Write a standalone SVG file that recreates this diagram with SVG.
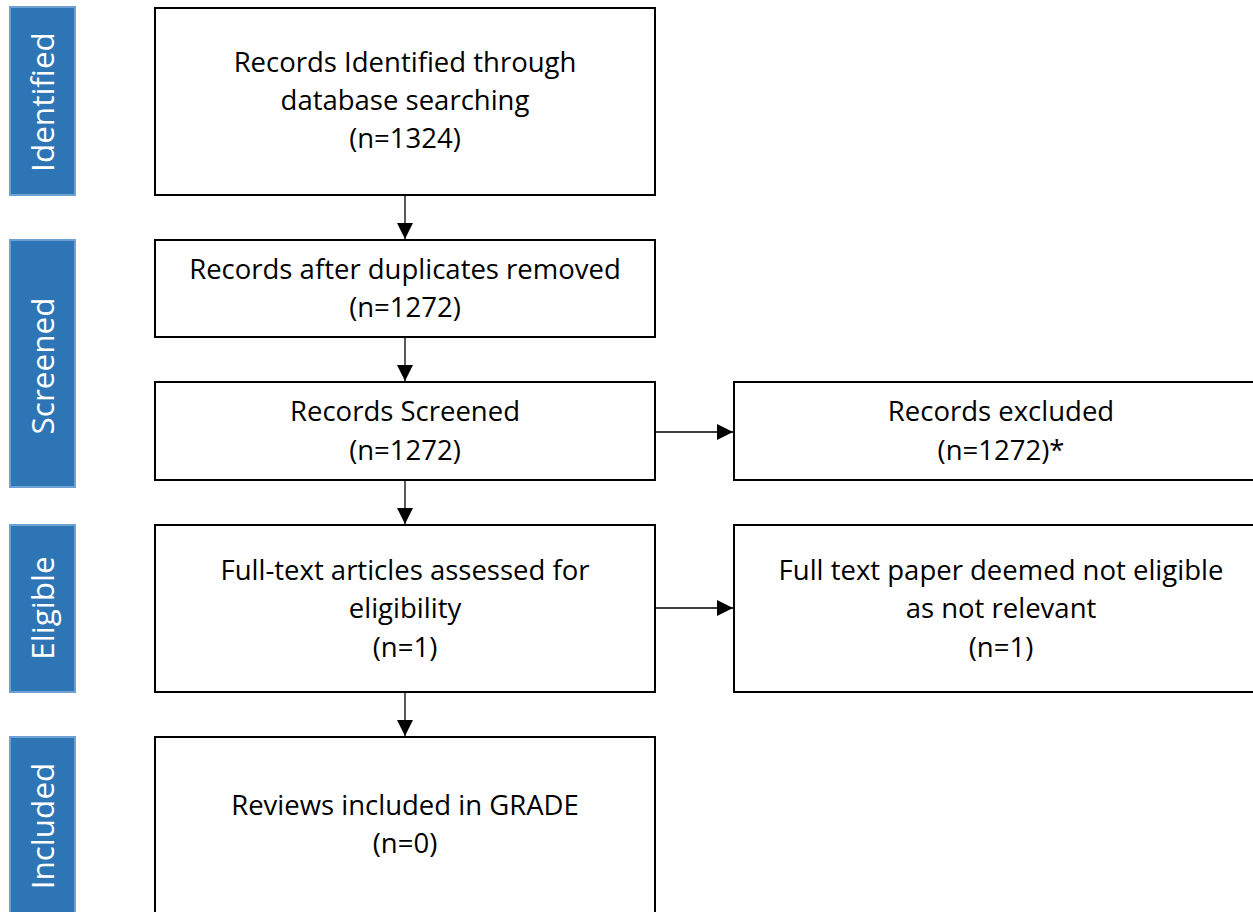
<svg xmlns="http://www.w3.org/2000/svg" width="1253" height="912" viewBox="0 0 1253 912">
<defs>
<style>
.side{fill:#2E75B6;stroke:#6FA0D4;stroke-width:2}
.sidet{fill:#fff;font-family:"Open Sans","Liberation Sans",sans-serif;font-size:31.5px;text-anchor:middle}
.box{fill:#fff;stroke:#000;stroke-width:2}
.t{fill:#000;font-family:"Open Sans","Liberation Sans",sans-serif;font-size:27.5px;text-anchor:middle}
.c{stroke:#000;stroke-width:1.3;fill:none}
</style>
<marker id="ahv" markerWidth="16" markerHeight="16" refX="16" refY="8" orient="auto" markerUnits="userSpaceOnUse" viewBox="0 0 16 16">
<path d="M0,0 L16,8 L0,16 z" fill="#000"/>
</marker>
</defs>
<rect width="1253" height="912" fill="#fff"/>
<g id="stage-identified"><rect class="side" x="10" y="7" width="65" height="188"/><text class="sidet" transform="translate(54,102) rotate(-90)">Identified</text></g>
<g id="stage-screened"><rect class="side" x="10" y="240" width="65" height="247"/><text class="sidet" transform="translate(54,366) rotate(-90)">Screened</text></g>
<g id="stage-eligible"><rect class="side" x="10" y="525" width="65" height="167"/><text class="sidet" transform="translate(54,608) rotate(-90)">Eligible</text></g>
<g id="stage-included"><rect class="side" x="10" y="737" width="65" height="185"/><text class="sidet" transform="translate(54,826) rotate(-90)">Included</text></g>
<g id="n1"><rect class="box" x="155" y="8" width="500" height="187"/><text class="t" x="405" y="72">Records Identified through</text><text class="t" x="405" y="110">database searching</text><text class="t" x="405" y="148">(n=1324)</text></g>
<g id="n2"><rect class="box" x="155" y="240" width="500" height="97"/><text class="t" x="405" y="279">Records after duplicates removed</text><text class="t" x="405" y="317">(n=1272)</text></g>
<g id="n3"><rect class="box" x="155" y="382" width="500" height="98"/><text class="t" x="405" y="421">Records Screened</text><text class="t" x="405" y="460">(n=1272)</text></g>
<g id="n4"><rect class="box" x="734" y="382" width="530" height="98"/><text class="t" x="1001" y="421">Records excluded</text><text class="t" x="1001" y="460">(n=1272)*</text></g>
<g id="n5"><rect class="box" x="155" y="525" width="500" height="167"/><text class="t" x="405" y="580">Full-text articles assessed for</text><text class="t" x="405" y="618">eligibility</text><text class="t" x="405" y="657">(n=1)</text></g>
<g id="n6"><rect class="box" x="734" y="525" width="530" height="167"/><text class="t" x="1001" y="580">Full text paper deemed not eligible</text><text class="t" x="1001" y="618">as not relevant</text><text class="t" x="1001" y="657">(n=1)</text></g>
<g id="n7"><rect class="box" x="155" y="737" width="500" height="190"/><text class="t" x="405" y="815">Reviews included in GRADE</text><text class="t" x="405" y="853">(n=0)</text></g>
<g id="connectors">
<line class="c" x1="405" y1="195" x2="405" y2="239" marker-end="url(#ahv)"/>
<line class="c" x1="405" y1="337" x2="405" y2="381" marker-end="url(#ahv)"/>
<line class="c" x1="405" y1="480" x2="405" y2="524" marker-end="url(#ahv)"/>
<line class="c" x1="405" y1="692" x2="405" y2="736" marker-end="url(#ahv)"/>
<line class="c" x1="655" y1="432" x2="733" y2="432" marker-end="url(#ahv)"/>
<line class="c" x1="655" y1="608" x2="733" y2="608" marker-end="url(#ahv)"/>
</g>
</svg>
